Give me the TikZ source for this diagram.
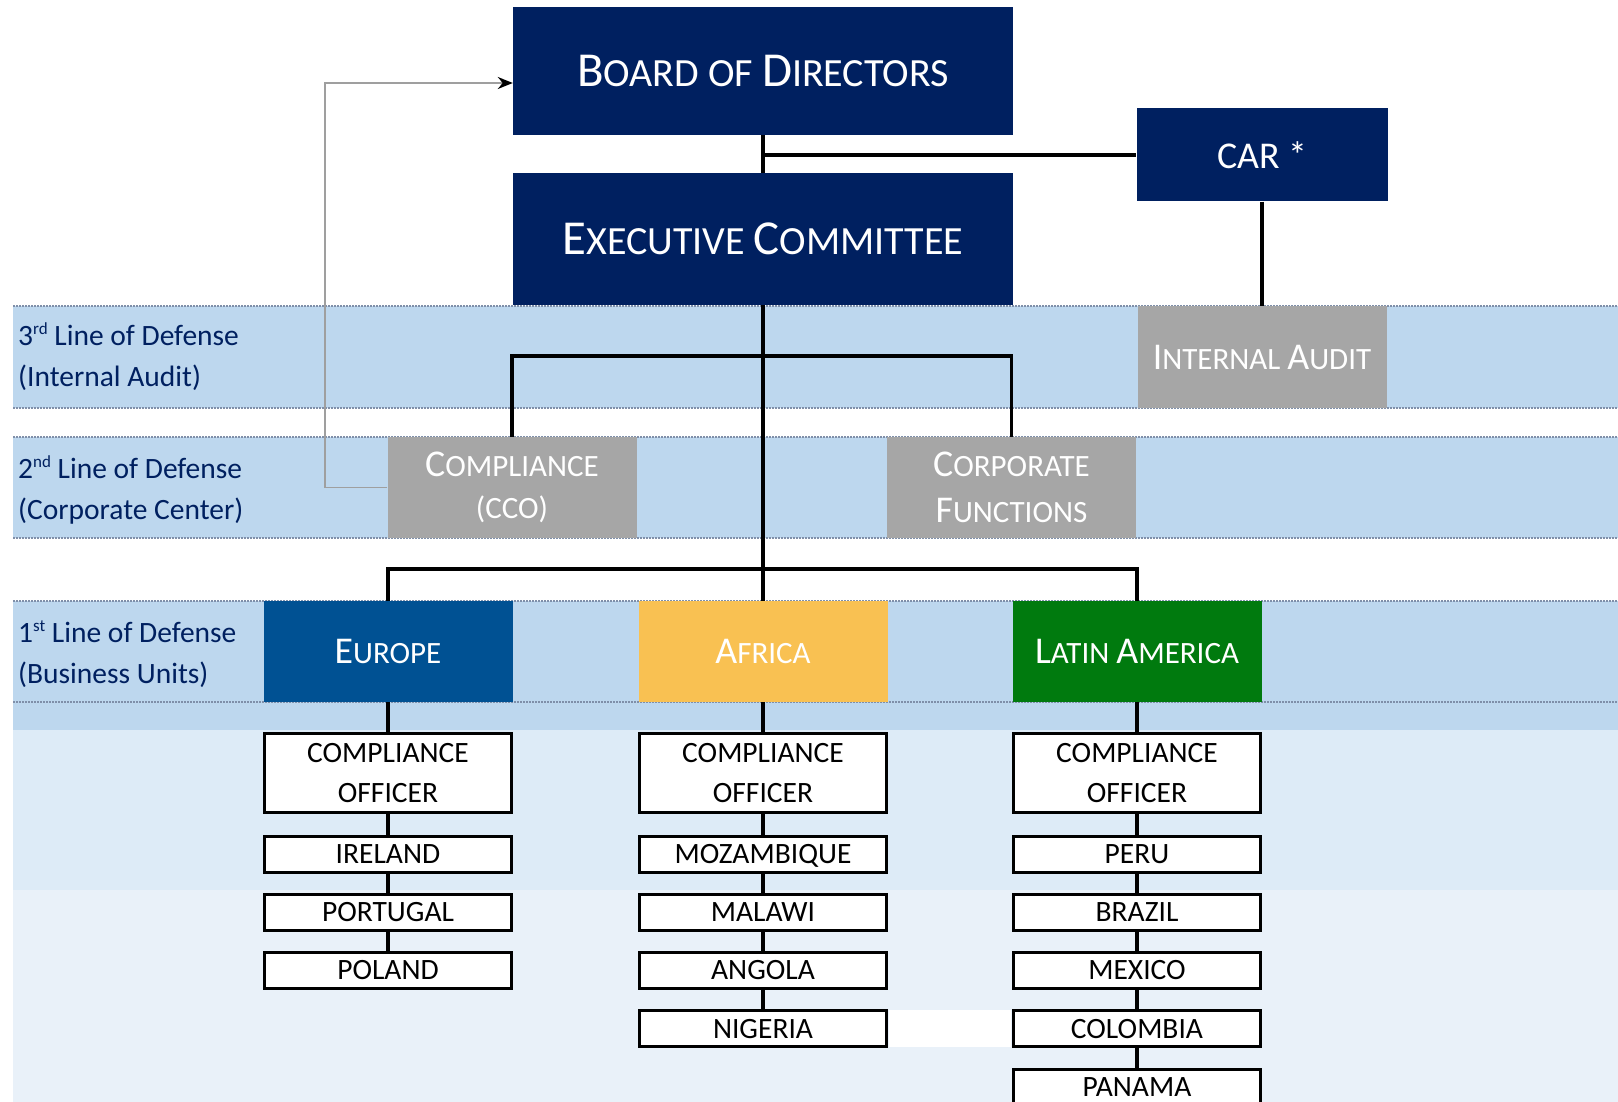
\documentclass[tikz,border=0pt]{standalone}
\usepackage{fontspec}
\setmainfont{Carlito}
\usepackage{tikz}
\usetikzlibrary{arrows.meta}
\definecolor{navy}{RGB}{0,32,96}
\definecolor{boxgray}{RGB}{166,166,166}
\definecolor{bandblue}{RGB}{189,215,238}
\definecolor{paleblue}{RGB}{221,235,247}
\definecolor{paleblue2}{RGB}{233,241,249}
\definecolor{bandline}{RGB}{127,143,169}
\definecolor{europeblue}{RGB}{0,81,147}
\definecolor{africagold}{RGB}{249,193,82}
\definecolor{latamgreen}{RGB}{0,122,14}
\newcommand{\ini}[1]{\scalebox{1.22}{#1}}
\newcommand{\ord}[1]{\raisebox{11pt}{\fontsize{17}{17}\selectfont #1}}

\begin{document}
\begin{tikzpicture}[x=1pt,y=-1pt,
    topbox/.style={fill=navy, text=white, minimum width=500pt, align=center, font=\fontsize{40}{44}\selectfont},
    graybox/.style={fill=boxgray, text=white, minimum width=249pt, minimum height=101pt, align=center, font=\fontsize{31}{42}\selectfont},
    regionbox/.style={text=white, minimum width=249pt, minimum height=101pt, font=\fontsize{31}{36}\selectfont},
    unitbox/.style={draw=black, line width=3pt, fill=white, minimum width=247pt, minimum height=36pt, inner sep=0pt, align=center, font=\fontsize{29.5}{40}\selectfont},
    countrybox/.style={unitbox, text height=18.6pt, text depth=0pt},
    lodlabel/.style={anchor=west, inner sep=0pt, align=left, text=navy, font=\fontsize{29.5}{41}\selectfont},
    link/.style={line width=3.5pt},
    bandedge/.style={bandline, densely dotted, line width=2pt}]
            \useasboundingbox (0,0) rectangle (1618,1102);
            \clip (0,0) rectangle (1618,1102);
            \fill[bandblue] (13,306) rectangle (1618,408);
            \fill[bandblue] (13,437) rectangle (1618,538);
            \fill[bandblue] (13,601) rectangle (1618,730);
            \fill[paleblue] (13,730) rectangle (1618,890);
            \fill[paleblue2] (13,890) rectangle (1618,1102);
            \fill[white] (889,1010) rectangle (1011,1047);
            \draw[bandedge] (13,306)--(1618,306);
            \draw[bandedge] (13,408)--(1618,408);
            \draw[bandedge] (13,437)--(1618,437);
            \draw[bandedge] (13,538)--(1618,538);
            \draw[bandedge] (13,601)--(1618,601);
            \draw[bandedge] (13,702)--(1618,702);
            \node[lodlabel] (lod3) at (18,357){3\ord{rd} Line of Defense\\(Internal Audit)};
            \node[lodlabel] (lod2) at (18,490){2\ord{nd} Line of Defense\\(Corporate Center)};
            \node[lodlabel] (lod1) at (18,654){1\ord{st} Line of Defense\\(Business Units)};
            \node[topbox, minimum height=128pt] (board) at (763,71){\ini{B}OARD OF \ini{D}IRECTORS};
            \node[topbox, minimum height=132pt] (exec) at (763,239){\ini{E}XECUTIVE \ini{C}OMMITTEE};
            \node[graybox, fill=navy, minimum width=251pt, minimum height=93pt] (car) at (1262,155){\ini{CAR *}};
            \node[graybox, minimum height=102pt] (audit) at (1262,357){\ini{I}NTERNAL \ini{A}UDIT};
            \node[graybox] (cco) at (512,487.5){\ini{C}OMPLIANCE\\(CCO)};
            \node[graybox] (corp) at (1011.5,487.5){\ini{C}ORPORATE\\[4pt]\ini{F}UNCTIONS};
            \node[regionbox, fill=europeblue] (europe) at (388,651.5){\ini{E}UROPE};
            \node[regionbox, fill=africagold] (africa) at (763,651.5){\ini{A}FRICA};
            \node[regionbox, fill=latamgreen] (latam) at (1137,651.5){\ini{L}ATIN \ini{A}MERICA};
            \node[unitbox, minimum height=79pt] (offE) at (388,773){COMPLIANCE\\OFFICER};
            \node[unitbox, minimum height=79pt] (offA) at (763,773){COMPLIANCE\\OFFICER};
            \node[unitbox, minimum height=79pt] (offL) at (1137,773){COMPLIANCE\\OFFICER};
            \foreach \cname/\ctext [count=\i] in {ireland/IRELAND, portugal/PORTUGAL, poland/POLAND}
                \node[countrybox] (\cname) at (388,795.7+58.3*\i){\ctext};
            \foreach \cname/\ctext [count=\i] in {mozambique/MOZAMBIQUE, malawi/MALAWI, angola/ANGOLA, nigeria/NIGERIA}
                \node[countrybox] (\cname) at (763,795.7+58.3*\i){\ctext};
            \foreach \cname/\ctext [count=\i] in {peru/PERU, brazil/BRAZIL, mexico/MEXICO, colombia/COLOMBIA, panama/PANAMA}
                \node[countrybox] (\cname) at (1137,795.7+58.3*\i){\ctext};
            \coordinate (split3) at (763,356);
            \coordinate (split1) at (763,569);
            \coordinate (bend) at (325,83);
            \draw[link] (board.south)--(exec.north);
            \draw[link] (board.south |- car.west)--(car.west);
            \draw[link] (car.south)--(audit.north);
            \draw[link] (exec.south)--(africa.north);
            \draw[link] (cco.north) |- (split3) -| (corp.north);
            \draw[link] (europe.north) |- (split1) -| (latam.north);
            \foreach \a/\b in {europe/offE, offE/ireland, ireland/portugal, portugal/poland,
                               africa/offA, offA/mozambique, mozambique/malawi, malawi/angola, angola/nigeria,
                               latam/offL, offL/peru, peru/brazil, brazil/mexico, mexico/colombia, colombia/panama}
                \draw[link] (\a.south)--(\b.north);
            \draw[gray!75, line width=1.8pt, -{Stealth[length=15pt, width=12pt, color=black]}] (cco.west) -| (bend) -- (board.west |- bend);
\end{tikzpicture}
\end{document}
